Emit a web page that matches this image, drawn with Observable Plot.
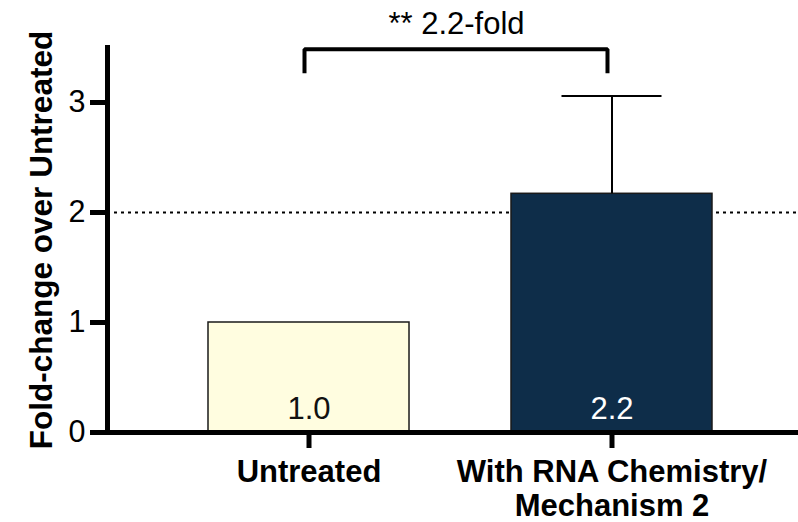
<!DOCTYPE html>
<html>
<head>
<meta charset="utf-8">
<script src="https://cdn.jsdelivr.net/npm/d3@7"></script>
<script src="https://cdn.jsdelivr.net/npm/@observablehq/plot@0.6"></script>
<style>
  html, body { margin: 0; padding: 0; background: #fff; }
  #chart svg { display: block; }
</style>
</head>
<body>
<div id="chart"></div>
<script>
// ---- Data ----
const categories = ["Untreated", "With RNA Chemistry/\nMechanism 2"];
const foldChange = [1.0, 2.17];
const errorUpper = [0, 0.89];
const barLabels = ["1.0", "2.2"];
const barColors = ["#FFFDE0", "#0E2D49"];
const barLabelColors = ["#111111", "#FFFFFF"];
const yTicks = [0, 1, 2, 3];
const yMax = 3.5;
const threshold = 2;
const yTitle = "Fold-change over Untreated";
const significanceText = "** 2.2-fold";
const bracketTop = 3.485;
const bracketBottom = 3.265;

// ---- Tables built from the arrays ----
const bars = categories.map((c, i) => ({
  cat: c, value: foldChange[i], err: errorUpper[i],
  label: barLabels[i], fill: barColors[i], labelColor: barLabelColors[i]
}));
const bracket = [
  {x: categories[0], y: bracketBottom},
  {x: categories[0], y: bracketTop},
  {x: categories[1], y: bracketTop},
  {x: categories[1], y: bracketBottom}
];

const font = "'Liberation Sans', Arial, Helvetica, sans-serif";

const chart = Plot.plot({
  width: 798,
  height: 522,
  marginLeft: 107,
  marginRight: 0,
  marginTop: 47,
  marginBottom: 90,
  style: {fontFamily: font, background: "#fff", color: "#000", overflow: "visible"},
  x: {domain: categories, range: [208, 712], paddingInner: 0.3366, paddingOuter: 0, align: 0.5, round: false},
  y: {domain: [0, yMax]},
  marks: [
    // dotted reference line at 2
    Plot.ruleY([threshold], {stroke: "#000", strokeWidth: 1.8, strokeDasharray: "3,4"}),
    // bars
    Plot.barY(bars, {x: "cat", y: "value", fill: "fill", stroke: "#1a1a1a", strokeWidth: 1.5}),
    // error bars
    Plot.ruleX(bars.filter(d => d.err > 0), {x: "cat", y1: "value", y2: d => d.value + d.err, stroke: "#000", strokeWidth: 2}),
    Plot.tickY(bars.filter(d => d.err > 0), {x: "cat", y: d => d.value + d.err, stroke: "#000", strokeWidth: 2, insetLeft: 50.5, insetRight: 50.5}),
    // value labels inside bars
    Plot.text(bars, {x: "cat", y: 0, text: "label", fill: "labelColor", fontSize: 31, lineAnchor: "bottom", dy: -14}),
    // axes
    Plot.frame({anchor: "left", stroke: "#000", strokeWidth: 5}),
    Plot.ruleY([0], {stroke: "#000", strokeWidth: 5, insetLeft: -17}),
    Plot.axisY({ticks: yTicks, tickSize: 17, tickPadding: 5, strokeWidth: 5, stroke: "#000", fontSize: 30.5, label: null, tickFormat: d3.format("d")}),
    Plot.axisX({tickSize: 16, strokeWidth: 5, stroke: "#000", tickFormat: () => "", label: null}),
    // x category labels
    Plot.text(categories, {x: d => d, frameAnchor: "bottom", lineAnchor: "top", dy: 25, fontSize: 31, fontWeight: "bold", lineHeight: 1.1, fill: "#000"}),
    // y title
    Plot.text([yTitle], {frameAnchor: "left", rotate: -90, dx: -66, fontSize: 31.5, fontWeight: "bold", textAnchor: "middle", lineAnchor: "middle", fill: "#000"}),
    // significance bracket
    Plot.line(bracket, {x: "x", y: "y", stroke: "#000", strokeWidth: 4, strokeLinejoin: "miter", strokeLinecap: "butt", dx: -4.5}),
    Plot.text([significanceText], {frameAnchor: "top", lineAnchor: "bottom", dx: 3.5, dy: -13.5, fontSize: 31, fill: "#000"})
  ]
});

document.getElementById("chart").appendChild(chart);
</script>
</body>
</html>
